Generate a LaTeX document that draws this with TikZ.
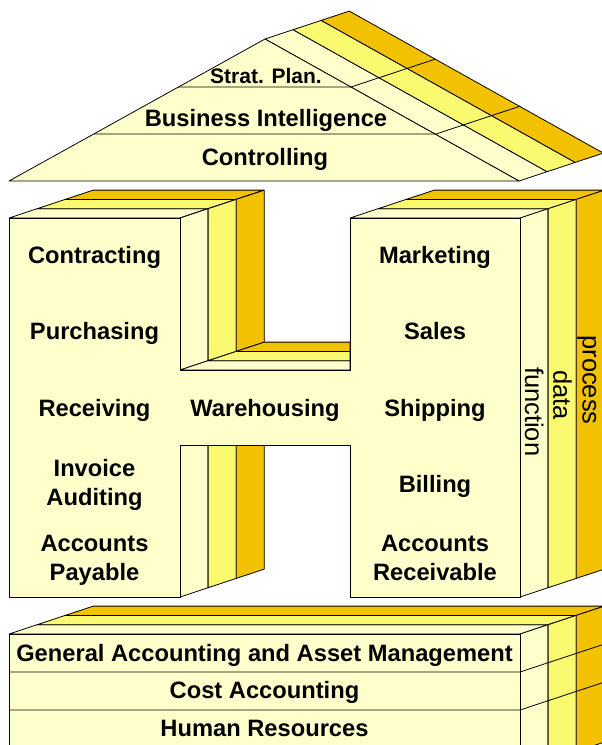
\documentclass[tikz,border=0pt]{standalone}
\usepackage{fontspec}
\setmainfont{Liberation Sans}
\definecolor{lightY}{RGB}{255,255,204}
\definecolor{midY}{RGB}{250,250,112}
\definecolor{goldY}{RGB}{242,194,0}
\tikzset{
  face/.style={draw=black, line width=0.8pt, line join=round},
  lbl/.style={font=\bfseries\fontsize{23.7}{29}\selectfont, align=center, anchor=base, inner sep=0pt},
  sidelbl/.style={font=\fontsize{25.5}{30}\selectfont, rotate=-90, anchor=base, inner sep=0pt}
}
\newcommand{\dX}{28.1}
\newcommand{\dY}{9.3}

\begin{document}
\begin{tikzpicture}[x=1pt, y=-1pt]
  \useasboundingbox (0,0) rectangle (602,745);
  \clip (0,0) rectangle (602,745);

  % Roof
  \begin{scope}
    \foreach \k/\c in {0/lightY,1/midY,2/goldY}
      \filldraw[face, fill=\c] ({265+\k*\dX},{39-\k*\dY}) -- ({265+(\k+1)*\dX},{39-(\k+1)*\dY})
        -- ({519+(\k+1)*\dX},{181-(\k+1)*\dY}) -- ({519+\k*\dX},{181-\k*\dY}) -- cycle;
    \filldraw[face, fill=lightY] (9,181) -- (265,39) -- (519,181) -- cycle;
    \draw[face] (178,87) -- (351,87) -- ++({3*\dX},{-3*\dY});
    \draw[face] (94,134) -- (436,134) -- ++({3*\dX},{-3*\dY});
    \node[lbl, font=\bfseries\fontsize{21}{25}\selectfont] (strat) at (266,83) {Strat. Plan.};
    \node[lbl] (bi) at (266,126.7) {Business Intelligence};
    \node[lbl] (controlling) at (265,165) {Controlling};
  \end{scope}

  % The H: top faces of both columns
  \foreach \x in {9,350}
    \foreach \k/\c in {0/lightY,1/midY,2/goldY}
      \filldraw[face, fill=\c] ({\x+\k*\dX},{218-\k*\dY}) -- ({\x+170.5+\k*\dX},{218-\k*\dY})
        -- ({\x+170.5+(\k+1)*\dX},{218-(\k+1)*\dY}) -- ({\x+(\k+1)*\dX},{218-(\k+1)*\dY}) -- cycle;

  % side faces and top of the bar
  \foreach \k/\c in {0/lightY,1/midY,2/goldY} {
    \filldraw[face, fill=\c] ({180+\k*\dX},{218-\k*\dY}) -- ({180+(\k+1)*\dX},{218-(\k+1)*\dY})
      -- ({180+(\k+1)*\dX},{370-(\k+1)*\dY}) -- ({180+\k*\dX},{370-\k*\dY}) -- cycle;
    \filldraw[face, fill=\c] ({180+\k*\dX},{370-\k*\dY}) -- (350,{370-\k*\dY})
      -- (350,{370-(\k+1)*\dY}) -- ({180+(\k+1)*\dX},{370-(\k+1)*\dY}) -- cycle;
    \filldraw[face, fill=\c] ({180+\k*\dX},445) -- ({180+(\k+1)*\dX},445)
      -- ({180+(\k+1)*\dX},{597-(\k+1)*\dY}) -- ({180+\k*\dX},{597-\k*\dY}) -- cycle;
    \filldraw[face, fill=\c] ({520+\k*\dX},{218-\k*\dY}) -- ({520+(\k+1)*\dX},{218-(\k+1)*\dY})
      -- ({520+(\k+1)*\dX},{597-(\k+1)*\dY}) -- ({520+\k*\dX},{597-\k*\dY}) -- cycle;
  }

  % front face of the H
  \filldraw[face, fill=lightY] (9,218) -- (180,218) -- (180,370) -- (350,370) -- (350,218)
    -- (520,218) -- (520,597) -- (350,597) -- (350,445) -- (180,445) -- (180,597) -- (9,597) -- cycle;

  \node[lbl] (contracting) at (94.5,263) {Contracting};
  \node[lbl] (purchasing) at (94.5,339) {Purchasing};
  \node[lbl] (receiving) at (94.5,416) {Receiving};
  \node[lbl] (invoice) at (94.5,505) {Invoice\\Auditing};
  \node[lbl] (payable) at (94.5,580) {Accounts\\Payable};
  \node[lbl] (warehousing) at (265,416) {Warehousing};
  \node[lbl] (marketing) at (435,263) {Marketing};
  \node[lbl] (sales) at (435,339) {Sales};
  \node[lbl] (shipping) at (435,416) {Shipping};
  \node[lbl] (billing) at (435,492) {Billing};
  \node[lbl] (receivable) at (435,580) {Accounts\\Receivable};

  \node[sidelbl] (function) at (525,411.7) {function};
  \node[sidelbl] (data) at (553.3,395) {data};
  \node[sidelbl] (process) at (582.5,380) {process};

  % Base
  \begin{scope}
    \foreach \k/\c in {0/lightY,1/midY,2/goldY} {
      \filldraw[face, fill=\c] ({9+\k*\dX},{634-\k*\dY}) -- ({520+\k*\dX},{634-\k*\dY})
        -- ({520+(\k+1)*\dX},{634-(\k+1)*\dY}) -- ({9+(\k+1)*\dX},{634-(\k+1)*\dY}) -- cycle;
      \filldraw[face, fill=\c] ({520+\k*\dX},{634-\k*\dY}) -- ({520+(\k+1)*\dX},{634-(\k+1)*\dY})
        -- ({520+(\k+1)*\dX},{770-(\k+1)*\dY}) -- ({520+\k*\dX},{770-\k*\dY}) -- cycle;
    }
    \filldraw[face, fill=lightY] (9,634) rectangle (520,770);
    \draw[face] (9,672) -- (520,672) -- ++({3*\dX},{-3*\dY});
    \draw[face] (9,710) -- (520,710) -- ++({3*\dX},{-3*\dY});
    \node[lbl] (general) at (264.5,661.7) {General Accounting and Asset Management};
    \node[lbl] (cost) at (264.5,698.3) {Cost Accounting};
    \node[lbl] (human) at (264.5,736.7) {Human Resources};
  \end{scope}
\end{tikzpicture}
\end{document}
